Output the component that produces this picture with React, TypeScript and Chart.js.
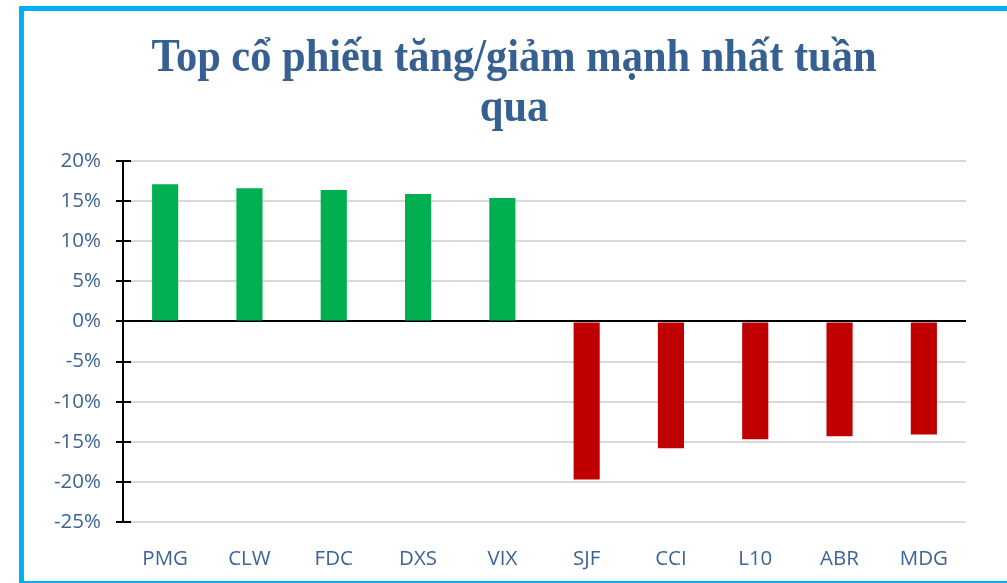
import React, { useEffect, useRef } from "react";
import { Chart, registerables } from "chart.js";

Chart.register(...registerables);

const categories = ["PMG", "CLW", "FDC", "DXS", "VIX", "SJF", "CCI", "L10", "ABR", "MDG"];
const values = [17.1, 16.6, 16.4, 15.9, 15.4, -19.7, -15.8, -14.7, -14.3, -14.1];
const titleLines = ["Top cổ phiếu tăng/giảm mạnh nhất tuần", "qua"];
const yMin = -25;
const yMax = 20;
const yStep = 5;

const TEXT_BLUE = "#3D6497";
const TITLE_BLUE = "#376092";

const titlePlugin = {
  id: "condensedTitle",
  afterDraw(chart: any) {
    const ctx = chart.ctx;
    ctx.save();
    ctx.fillStyle = TITLE_BLUE;
    ctx.font = 'bold 46px "Liberation Serif"';
    ctx.textAlign = "center";
    ctx.textBaseline = "alphabetic";
    const w = ctx.measureText(titleLines[0]).width;
    const sx = 725 / w;
    const baselines = [71, 121];
    titleLines.forEach((line, i) => {
      ctx.save();
      ctx.translate(514, baselines[i]);
      ctx.scale(sx, 1);
      ctx.fillText(line, 0, 0);
      ctx.restore();
    });
    ctx.restore();
  },
};

const crossTicks = {
  id: "crossTicks",
  afterDraw(chart: any) {
    const ctx = chart.ctx;
    const ys = chart.scales.y;
    const left = chart.chartArea.left;
    ctx.save();
    ctx.strokeStyle = "#000";
    ctx.lineWidth = 2;
    ys.ticks.forEach((t: any) => {
      const y = Math.round(ys.getPixelForValue(t.value));
      ctx.beginPath();
      ctx.moveTo(left - 7, y);
      ctx.lineTo(left + 8, y);
      ctx.stroke();
    });
    ctx.restore();
  },
};

export default function App() {
  const ref = useRef<HTMLCanvasElement>(null);
  useEffect(() => {
    if (!ref.current) return;
    const chart = new Chart(ref.current, {
      type: "bar",
      data: {
        labels: categories,
        datasets: [
          {
            data: values,
            backgroundColor: values.map((v) => (v >= 0 ? "#00B050" : "#C00000")),
            borderWidth: 0,
            categoryPercentage: 1,
            barPercentage: 0.31,
          },
        ],
      },
      options: {
        responsive: false,
        animation: false,
        devicePixelRatio: 1,
        layout: { padding: { top: 161, right: 41, left: 0, bottom: 0 } },
        plugins: {
          legend: { display: false },
          title: { display: false },
          tooltip: { enabled: false },
        },
        scales: {
          x: {
            grid: { display: false },
            border: { display: false },
            ticks: {
              color: TEXT_BLUE,
              font: { family: '"Open Sans"', size: 20.5 },
              padding: 17,
            },
            afterFit(scale: any) {
              scale.height = 61;
            },
          },
          y: {
            min: yMin,
            max: yMax,
            ticks: {
              stepSize: yStep,
              color: TEXT_BLUE,
              font: { family: '"Open Sans"', size: 20.5 },
              padding: 22,
              callback: (v: any) => v + "%",
            },
            grid: {
              drawTicks: false,
              color: (c: any) => (c.tick && c.tick.value === 0 ? "#000000" : "#D9D9D9"),
              lineWidth: 2,
            },
            border: { display: true, color: "#000000", width: 2 },
            afterFit(scale: any) {
              scale.width = 123;
            },
          },
        },
      },
      plugins: [titlePlugin, crossTicks],
    });
    return () => chart.destroy();
  }, []);

  return (
    <div
      style={{
        position: "fixed",
        left: 0,
        top: 0,
        width: 1007,
        height: 583,
        overflow: "hidden",
        background: "#fff",
      }}
    >
      <div
        style={{
          position: "absolute",
          left: 19,
          top: 6,
          width: 1100,
          height: 570,
          borderLeft: "5px solid #00B0F0",
          borderTop: "5px solid #00B0F0",
          borderBottom: "2px solid #00B0F0",
          background: "#fff",
        }}
      />
      <canvas
        ref={ref}
        width={1007}
        height={583}
        style={{ position: "absolute", left: 0, top: 0, width: 1007, height: 583 }}
      />
    </div>
  );
}
